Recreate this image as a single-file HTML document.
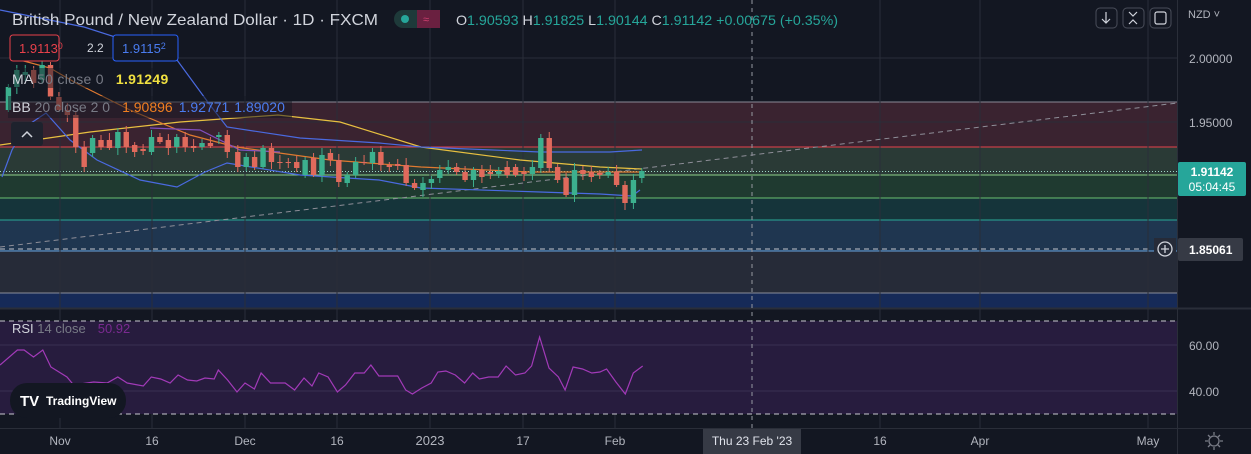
<!DOCTYPE html>
<html><head><meta charset="utf-8"><style>
html,body{margin:0;padding:0;background:#131722;overflow:hidden}
svg{display:block}
text{font-family:"Liberation Sans",sans-serif}
</style></head><body>
<svg id="s" width="1251" height="454" viewBox="0 0 1251 454" xmlns="http://www.w3.org/2000/svg">
<rect width="1251" height="454" fill="#131722"/>
<rect x="0" y="102" width="1177" height="45" fill="#3a2330"/>
<rect x="0" y="147" width="1177" height="28" fill="#2a3a36"/>
<rect x="0" y="175" width="1177" height="23" fill="#1f3a30"/>
<rect x="0" y="198" width="1177" height="22" fill="#15343a"/>
<rect x="0" y="220" width="1177" height="31" fill="#1f3650"/>
<rect x="0" y="251" width="1177" height="42" fill="#262b38"/>
<rect x="0" y="293" width="1177" height="15" fill="#162a58"/>
<line x1="0" y1="102" x2="1177" y2="102" stroke="#8a8a96" stroke-width="1"/>
<line x1="0" y1="147" x2="1177" y2="147" stroke="#e8414b" stroke-width="1"/>
<line x1="0" y1="175" x2="1177" y2="175" stroke="#8fd08a" stroke-width="1"/>
<line x1="0" y1="198" x2="1177" y2="198" stroke="#6ac070" stroke-width="1"/>
<line x1="0" y1="220" x2="1177" y2="220" stroke="#2aa896" stroke-width="1"/>
<line x1="0" y1="251" x2="1177" y2="251" stroke="#6aa6e0" stroke-width="1"/>
<line x1="0" y1="249" x2="1150" y2="249" stroke="#c0c4cc" stroke-width="1" stroke-dasharray="5,4"/>
<line x1="0" y1="293" x2="1177" y2="293" stroke="#8a8e9a" stroke-width="1"/>
<line x1="0" y1="171.5" x2="1177" y2="171.5" stroke="#9ed8c8" stroke-width="1" stroke-dasharray="1,2"/>
<g id="grid" stroke="#2a2e39" stroke-width="1"></g>
<line x1="0" y1="308.5" x2="1251" y2="308.5" stroke="#2a2e39" stroke-width="2"/>
<rect x="0" y="321" width="1177" height="93" fill="#271c3e"/>
<line x1="0" y1="345" x2="1177" y2="345" stroke="#3a2f52"/>
<line x1="0" y1="391" x2="1177" y2="391" stroke="#3a2f52"/>
<line x1="0" y1="321" x2="1177" y2="321" stroke="#c8c8d0" stroke-dasharray="5,4"/>
<line x1="0" y1="414" x2="1177" y2="414" stroke="#c8c8d0" stroke-dasharray="5,4"/>
<line x1="0" y1="428.5" x2="1251" y2="428.5" stroke="#2a2e39"/>
<line x1="1177.5" y1="0" x2="1177.5" y2="454" stroke="#2a2e39"/>
<line x1="752" y1="0" x2="752" y2="428" stroke="#9598a1" stroke-dasharray="4,4"/>
<line x1="0" y1="247" x2="1177" y2="103" stroke="#8e8e98" stroke-dasharray="5,4"/>
<g id="ind" fill="none" stroke-width="1.2"></g>
<g id="cdl"></g>
<polyline id="rsi" fill="none" stroke="#a23ab8" stroke-width="1.2"/>
<text x="12" y="25" fill="#d1d4dc" font-size="16" textLength="366" lengthAdjust="spacingAndGlyphs">British Pound / New Zealand Dollar · 1D · FXCM</text>
<rect x="394" y="10" width="46" height="18" rx="9" fill="#1e3a3a"/>
<rect x="417" y="10" width="23" height="18" rx="0" fill="#6a2040"/>
<circle cx="405" cy="19" r="4" fill="#26a69a"/>
<text x="423" y="23" fill="#d04070" font-size="11">≈</text>
<text x="456" y="25" font-size="14" fill="#d1d4dc" textLength="382" lengthAdjust="spacingAndGlyphs">O<tspan fill="#26a69a">1.90593</tspan> H<tspan fill="#26a69a">1.91825</tspan> L<tspan fill="#26a69a">1.90144</tspan> C<tspan fill="#26a69a">1.91142 +0.00675 (+0.35%)</tspan></text>
<rect x="10" y="35" width="49" height="26" rx="3" fill="#131722" stroke="#e8414b"/>
<text x="19" y="53" font-size="13" fill="#e8414b">1.9113<tspan font-size="9" dy="-4">0</tspan></text>
<text x="87" y="52" font-size="12" fill="#d1d4dc">2.2</text>
<rect x="113" y="35" width="65" height="26" rx="3" fill="#131722" stroke="#2962ff"/>
<text x="122" y="53" font-size="13" fill="#4a7cf0">1.9115<tspan font-size="9" dy="-4">2</tspan></text>
<rect x="8" y="68" width="160" height="20" fill="#131722" opacity="0.5"/>
<text x="12" y="84" font-size="14" fill="#d1d4dc" letter-spacing="0.3">MA <tspan fill="#787b86">50 close 0</tspan><tspan dx="12" fill="#f0e040" font-weight="bold">1.91249</tspan></text>
<rect x="8" y="96" width="284" height="22" fill="#131722" opacity="0.5"/>
<text x="12" y="112" font-size="14" fill="#d1d4dc">BB <tspan fill="#787b86">20 close 2 0</tspan><tspan dx="12" fill="#f07f20">1.90896</tspan><tspan dx="6" fill="#4a7cf0">1.92771</tspan><tspan dx="6" fill="#4a7cf0">1.89020</tspan></text>
<rect x="11" y="122" width="32" height="24" rx="3" fill="#1e222d"/>
<polyline points="22,137 27,132 32,137" fill="none" stroke="#d1d4dc" stroke-width="1.5"/>
<g fill="none" stroke="#4a4e5a"><rect x="1096" y="8" width="21" height="20" rx="4"/><rect x="1123" y="8" width="21" height="20" rx="4"/><rect x="1150" y="8" width="21" height="20" rx="4"/></g>
<g fill="none" stroke="#d1d4dc" stroke-width="1.2"><path d="M1106 12v11M1102 19l4 4 4-4"/><path d="M1129 12l4 4 4-4M1129 24l4-4 4 4"/><rect x="1155" y="12" width="11" height="12" rx="2"/></g>
<text x="1188" y="18" font-size="11" fill="#b2b5be">NZD ˅</text>
<text x="1189" y="63" font-size="12" fill="#b2b5be">2.00000</text>
<text x="1189" y="127" font-size="12" fill="#b2b5be">1.95000</text>
<rect x="1178" y="162" width="68" height="34" rx="2" fill="#26a69a"/>
<text x="1212" y="176" font-size="12" fill="#fff" font-weight="bold" text-anchor="middle">1.91142</text>
<text x="1212" y="191" font-size="12" fill="#fff" text-anchor="middle">05:04:45</text>
<rect x="1154" y="238" width="22" height="22" fill="#262b38"/>
<circle cx="1165" cy="249" r="7" fill="none" stroke="#d1d4dc" stroke-width="1.3"/>
<path d="M1165 245v8M1161 249h8" stroke="#d1d4dc" stroke-width="1.3"/>
<rect x="1178" y="238" width="65" height="23" rx="2" fill="#363a45"/>
<text x="1189" y="254" font-size="12" fill="#fff" font-weight="bold">1.85061</text>
<text x="1189" y="350" font-size="12" fill="#b2b5be">60.00</text>
<text x="1189" y="396" font-size="12" fill="#b2b5be">40.00</text>
<text x="12" y="333" font-size="13" fill="#d1d4dc">RSI <tspan fill="#787b86">14 close</tspan><tspan dx="12" fill="#7a2a90">50.92</tspan></text>
<rect x="10" y="383" width="116" height="35" rx="17" fill="#131722"/>
<text x="20" y="406" font-size="15" fill="#fff" font-weight="bold">TV</text>
<text x="46" y="405" font-size="12" fill="#fff" font-weight="bold">TradingView</text>
<g font-size="12" fill="#b2b5be" text-anchor="middle">
<text x="60" y="445">Nov</text><text x="152" y="445">16</text><text x="245" y="445">Dec</text><text x="337" y="445">16</text>
<text x="430" y="445" font-size="13">2023</text><text x="523" y="445">17</text><text x="615" y="445">Feb</text>
<text x="880" y="445">16</text><text x="980" y="445">Apr</text><text x="1148" y="445">May</text></g>
<rect x="703" y="429" width="98" height="25" fill="#363a45"/>
<text x="752" y="445" font-size="12" fill="#e0e3eb" text-anchor="middle">Thu 23 Feb '23</text>
<circle cx="1214" cy="441" r="5" fill="none" stroke="#787b86" stroke-width="1.3"/>
<path d="M1214 432v3M1214 447v3M1205 441h3M1220 441h3M1208 435l2 2M1218 445l2 2M1220 435l-2 2M1208 447l2-2" stroke="#787b86" stroke-width="1.3"/>
</svg>
<script>
var NS="http://www.w3.org/2000/svg";
function el(p,t,a){var e=document.createElementNS(NS,t);for(var k in a)e.setAttribute(k,a[k]);p.appendChild(e);return e;}
var g=document.getElementById('grid');
[60,152,245,337,430,523,615,880,980,1148].forEach(function(x){el(g,'line',{x1:x,y1:0,x2:x,y2:428});});
[58,122].forEach(function(y){el(g,'line',{x1:0,y1:y,x2:1177,y2:y});});
var ind=document.getElementById('ind');
function pl(pts,c){el(ind,'polyline',{points:pts.map(function(p){return p.join(',')}).join(' '),stroke:c});}
pl([[0,145],[90,132],[180,122],[278,115],[340,122],[421,147],[520,160],[600,167],[642,169]],'#e8c040');
pl([[20,60],[50,68],[76,83],[130,110],[190,135],[236,147],[330,160],[421,167],[530,172],[642,172]],'#e07a30');
pl([[0,10],[40,18],[84,27],[140,45],[177,60],[210,105],[227,127],[300,138],[379,143],[421,147],[540,152],[610,152],[642,150]],'#4a6ae0');
pl([[2,177],[12,150],[25,127],[46,113],[70,140],[97,160],[140,180],[177,187],[205,172],[227,163],[300,175],[379,180],[421,188],[540,192],[600,194],[632,196],[640,190]],'#4a6ae0');
pl([[150,128],[200,130],[240,150],[280,152]],'#8050c0');
var C=[[20,110,87],[40,87,70],[60,75,72],[80,70,83],[100,80,65],[120,65,97],[140,97,110],[160,110,115],[180,115,147],[200,147,167],[220,153,138],[240,140,147],[260,140,148],[280,148,132],[300,132,147],[320,145,152],[340,149,151],[360,152,137],[380,137,142],[400,140,148],[420,147,137],[440,137,147],[460,146,148],[480,147,143],[500,143,146],[520,137,135],[540,135,152],[565,152,167],[585,167,157],[605,157,167],[625,167,148],[645,148,162],[665,162,163],[685,162,163],[705,162,168],[725,175,160],[745,158,175],[765,175,155],[785,153,160],[805,160,182],[825,183,175],[845,175,162],[865,162,163],[885,163,152],[905,152,165],[925,165,167],[945,164,166],[965,165,183],[985,183,188],[1005,190,183],[1025,183,179],[1045,178,170],[1065,170,167],[1085,167,172],[1105,172,180],[1125,180,170],[1145,170,177],[1165,172,174],[1185,174,171],[1205,167,175],[1225,167,175],[1245,172,174],[1265,174,167],[1285,168,138],[1305,138,168],[1325,167,180],[1345,178,195],[1365,195,170],[1385,170,174],[1405,172,177],[1425,173,175],[1445,175,172],[1465,172,185],[1485,185,203],[1505,203,180],[1525,178,171]];
var cd=document.getElementById('cdl');
C.forEach(function(c,i){var x=c[0]/2.376,o=c[1],cl=c[2];var up=cl<o;var col=up?'#3cb08e':'#e06a5c';
var t=Math.min(o,cl),b=Math.max(o,cl);var w1=3+(i*7%5),w2=2+(i*5%6);
el(cd,'line',{x1:x,y1:t-w1,x2:x,y2:b+w2,stroke:col,'stroke-width':1});
el(cd,'rect',{x:x-2.7,y:t,width:5.4,height:Math.max(1,b-t),fill:col});});
var R=[[0,365],[13,350],[18,350],[25,357],[32,350],[38,367],[50,377],[55,385],[70,382],[80,383],[88,377],[95,383],[107,386],[113,377],[120,379],[127,383],[133,375],[140,380],[147,381],[153,378],[160,379],[163,370],[170,380],[177,392],[183,383],[190,389],[195,373],[202,383],[213,383],[220,390],[227,378],[233,386],[238,373],[245,377],[252,392],[258,385],[265,373],[272,373],[277,365],[283,376],[297,376],[303,390],[308,394],[315,388],[322,383],[327,372],[333,371],[340,375],[347,383],[353,373],[358,379],[365,377],[372,377],[378,366],[385,375],[392,373],[397,366],[403,337],[410,368],[417,377],[422,390],[428,367],[435,369],[442,373],[448,372],[453,369],[460,382],[467,394],[473,373],[480,366]];
document.getElementById('rsi').setAttribute('points',R.map(function(p){return (p[0]*1.339).toFixed(1)+','+p[1]}).join(' '));
</script>
</body></html>
